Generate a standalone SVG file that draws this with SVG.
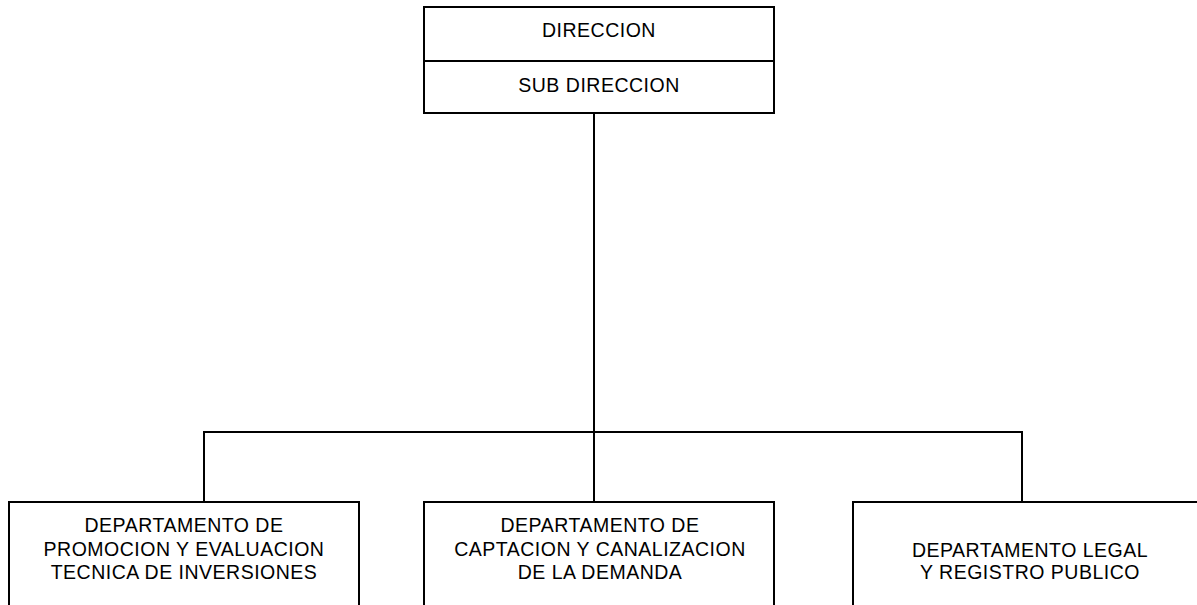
<svg xmlns="http://www.w3.org/2000/svg" width="1197" height="605" viewBox="0 0 1197 605">
<style>
.box{fill:#fff;stroke:#000;stroke-width:2}
.ln{fill:none;stroke:#000;stroke-width:2}
.t{font-family:"Liberation Sans",Arial,sans-serif;font-size:19.5px;letter-spacing:0.5px;fill:#000;text-anchor:middle}
</style>
<rect width="1197" height="605" fill="#fff"/>
<g id="connectors">
<line class="ln" x1="594" y1="113" x2="594" y2="502"/>
<polyline class="ln" points="204,502 204,432 1022,432 1022,502"/>
</g>
<g id="direccion">
<rect class="box" x="424" y="7" width="350" height="54"/>
<text class="t" x="599" y="37">DIRECCION</text>
</g>
<g id="subdireccion">
<rect class="box" x="424" y="61" width="350" height="52"/>
<text class="t" x="599" y="92">SUB DIRECCION</text>
</g>
<g id="dep-promocion">
<rect class="box" x="9" y="502" width="350" height="120"/>
<text class="t" x="184" y="532">DEPARTAMENTO DE</text>
<text class="t" x="184" y="556">PROMOCION Y EVALUACION</text>
<text class="t" x="184" y="579">TECNICA DE INVERSIONES</text>
</g>
<g id="dep-captacion">
<rect class="box" x="424" y="502" width="350" height="120"/>
<text class="t" x="600" y="532">DEPARTAMENTO DE</text>
<text class="t" x="600" y="556">CAPTACION Y CANALIZACION</text>
<text class="t" x="600" y="579">DE LA DEMANDA</text>
</g>
<g id="dep-legal">
<rect class="box" x="853" y="502" width="360" height="120"/>
<text class="t" x="1030" y="557">DEPARTAMENTO LEGAL</text>
<text class="t" x="1030" y="579">Y REGISTRO PUBLICO</text>
</g>
</svg>
